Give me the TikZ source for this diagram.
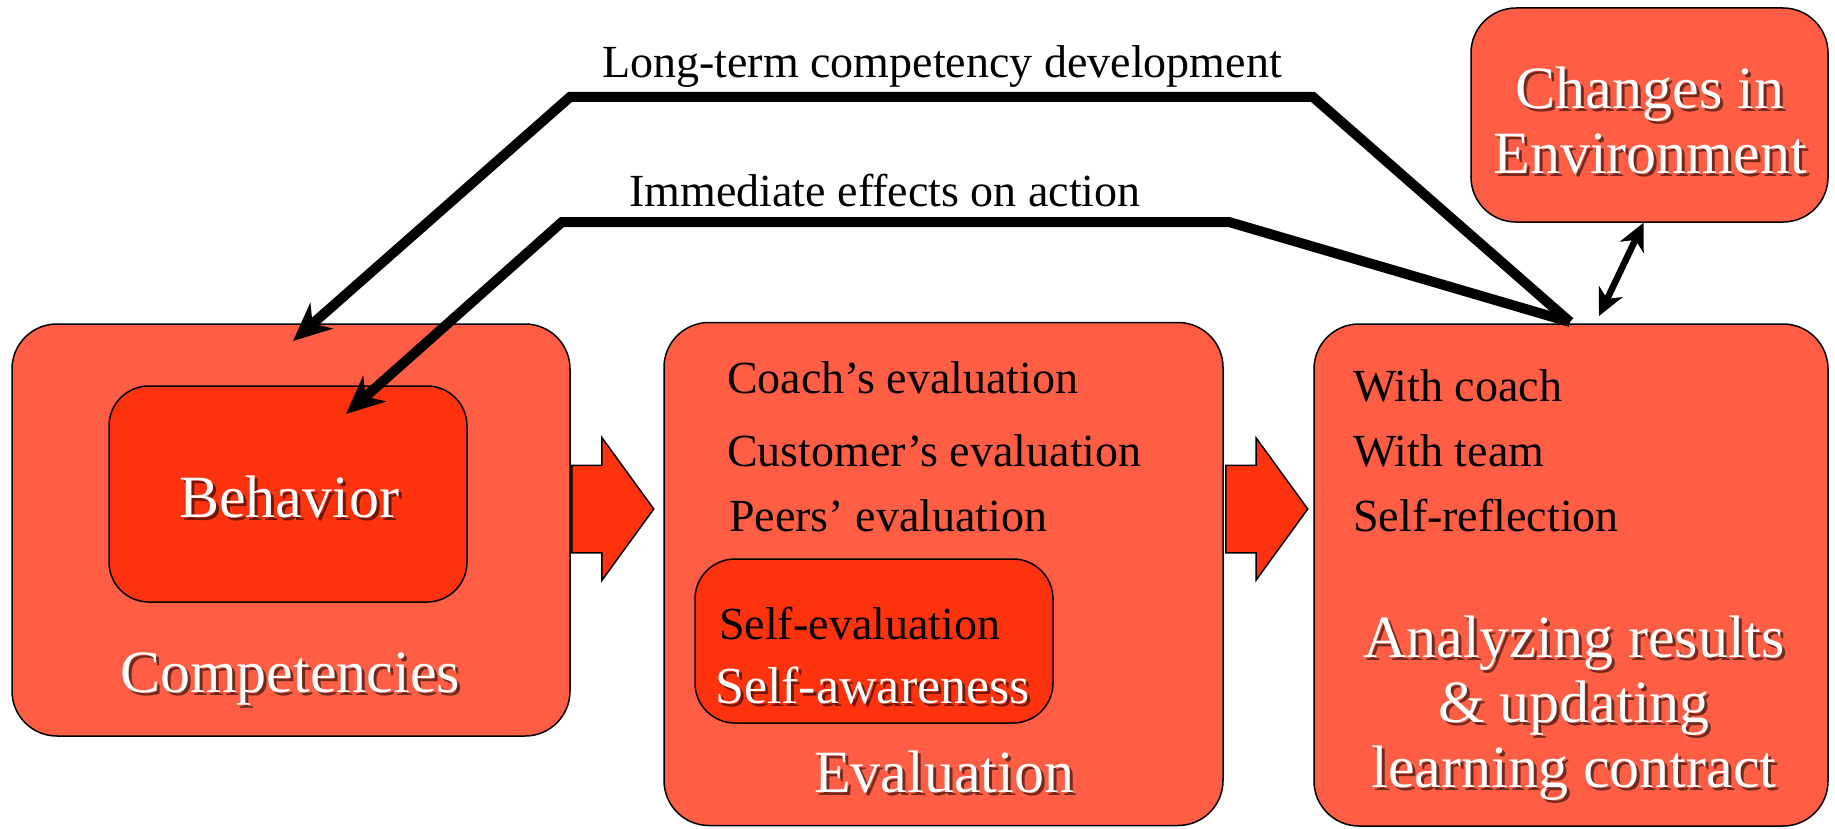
\documentclass[tikz,border=0pt]{standalone}
\usepackage{fontspec}
\setmainfont{Liberation Serif}
\usepackage{tikz}
\usetikzlibrary{arrows.meta,%
                shapes.arrows,positioning}
\definecolor{boxred}{RGB}{255,94,68}
\definecolor{deepred}{RGB}{255,50,14}
\newcommand{\shadowtext}[4][]{%
  \node[bigtext,#1,text=black,opacity=0.55] (#2-sh) at ([shift={(3,3)}]#3) {#4};
  \node[bigtext,#1] (#2) at (#3) {#4};}

\begin{document}
\begin{tikzpicture}[x=1pt,y=-1pt,
  outerbox/.style={draw=black,line width=1.5pt,fill=boxred,rounded corners=45pt,inner sep=0pt},
  innerbox/.style={draw=black,line width=1.5pt,fill=deepred,rounded corners=40pt,inner sep=0pt},
  listtext/.style={inner sep=0pt,font=\fontsize{46}{55}\selectfont},
  bigtext/.style={inner sep=0pt,text=white,align=center,font=\fontsize{60}{65}\selectfont},
  flow/.style={line width=10pt,-{Stealth[length=38pt,width=34pt,inset=12pt]}},
  blockarrow/.style={single arrow,draw=black,line width=1.5pt,fill=deepred,anchor=tail,
    minimum height=82pt,minimum width=141pt,single arrow head extend=27.5pt,
    single arrow tip angle=108,inner xsep=0pt,inner ysep=43pt}]
\useasboundingbox (0,0) rectangle (1835,829);
\node[outerbox,minimum width=558pt,minimum height=412pt] (comp) at (291,530) {};
\node[innerbox,minimum width=358pt,minimum height=216pt] (beh) at (288,494) {};
\node[outerbox,minimum width=559pt,minimum height=503pt] (eval) at (943.5,574) {};
\node[innerbox,minimum width=358pt,minimum height=164pt] (self) at (874,641) {};
\node[outerbox,minimum width=514pt,minimum height=502pt] (anal) at (1571,575) {};
\node[outerbox,minimum width=357pt,minimum height=214pt] (env) at (1649.5,115) {};
\node[blockarrow] (push1) at (571,509) {};
\node[blockarrow] (push2) at (1225,509) {};

\shadowtext{behtxt}{289,497}{Behavior}
\shadowtext{comptxt}{290,679}{Competencies}
\node[listtext,anchor=west] (coach) at (727,378) {Coach’s evaluation};
\node[listtext,anchor=west] (cust) at (727,451) {Customer’s evaluation};
\node[listtext,anchor=west] (peers) at (729,516) {Peers’ evaluation};
\node[listtext,anchor=west] (selfev) at (719,624) {Self-evaluation};
\shadowtext[anchor=west,font=\fontsize{52}{60}\selectfont]{selfaw}{715,685}{Self-awareness}
\shadowtext{evaltxt}{944,772}{Evaluation}
\node[listtext,anchor=west] (wcoach) at (1353,386) {With coach};
\node[listtext,anchor=west] (wteam) at (1353,451) {With team};
\node[listtext,anchor=west] (refl) at (1353,516) {Self-reflection};
\shadowtext{analtxt}{1574,708}{Analyzing results\\ \& updating\\ learning contract}
\shadowtext{envtxt}{1650,120}{Changes in\\ Environment}

\coordinate (hub) at (1570,322);
\coordinate (lt-a) at (1313,97);
\coordinate (lt-b) at (570,97);
\coordinate (lt-end) at (293,341);
\coordinate (im-a) at (1229,222);
\coordinate (im-b) at (562,222);
\coordinate (im-end) at (346,414);
\coordinate (envlink) at (1599,316);
\draw[flow] (hub) -- (lt-a) -- (lt-b) -- (lt-end);
\draw[flow] (hub) -- (im-a) -- (im-b) -- (im-end);
\draw[line width=6.5pt,{Stealth[length=27pt,width=26pt,inset=8pt]}-{Stealth[length=27pt,width=26pt,inset=8pt]}]
  ([xshift=-6pt]env.south) -- (envlink);
\node[listtext] (ltlabel) at (942,67) {Long-term competency development};
\node[listtext] (imlabel) at (885,191) {Immediate effects on action};
\end{tikzpicture}
\end{document}
